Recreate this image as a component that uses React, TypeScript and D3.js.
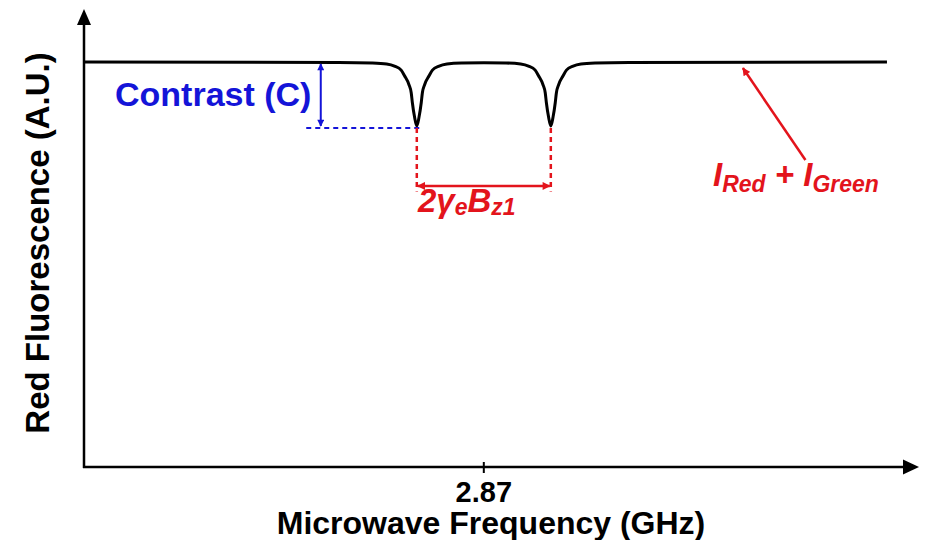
import React from 'react';
import * as d3 from 'd3';

// ODMR spectrum: two Lorentzian-looking dips around 2.87 GHz
const freqGHz = [
  2.512, 2.74, 2.77, 2.783, 2.79, 2.796, 2.799, 2.803, 2.805, 2.806, 2.808, 2.81,
  2.812, 2.814, 2.815, 2.817, 2.821, 2.824, 2.83, 2.837, 2.85, 2.87,
  2.89, 2.903, 2.91, 2.916, 2.919, 2.923, 2.925, 2.926, 2.928, 2.93,
  2.932, 2.934, 2.935, 2.937, 2.941, 2.944, 2.95, 2.957, 2.97, 3.0, 3.231,
];
const redFluorescence = [
  1.0, 0.999, 0.9975, 0.995, 0.99, 0.98, 0.966, 0.944, 0.924, 0.9, 0.864, 0.842,
  0.864, 0.9, 0.924, 0.944, 0.966, 0.98, 0.99, 0.995, 0.9975, 0.998,
  0.9975, 0.995, 0.99, 0.98, 0.966, 0.944, 0.924, 0.9, 0.864, 0.842,
  0.864, 0.9, 0.924, 0.944, 0.966, 0.98, 0.99, 0.995, 0.9975, 0.999, 1.0,
];
const xTicks = [2.87];
const dipFreqs = [2.81, 2.93];
const dipLevel = 0.842;
const contrastFreq = 2.724;
const contrastDashFrom = 2.711;
const splitArrowLevel = 0.694;
const splitDashLevel = 0.68;
const sumArrowFrom = { f: 3.158, v: 0.758 };
const sumArrowTo = { f: 3.102, v: 0.985 };

const W = 928;
const H = 540;
const FONT = '"Liberation Sans", Arial, Helvetica, sans-serif';
const RED = '#e3141c';
const BLUE = '#1414d8';

export default function App() {
  const x = d3.scaleLinear().domain([2.512, 3.257]).range([84, 916]);
  const y = d3.scaleLinear().domain([0, 1]).range([467, 62]);
  const points = freqGHz.map((f, i) => [f, redFluorescence[i]] as [number, number]);
  const line = d3.line<[number, number]>()
    .x((d) => x(d[0]))
    .y((d) => y(d[1]))
    .curve(d3.curveMonotoneX);

  const x0 = x.range()[0];
  const y0 = y(0);

  return (
    <svg width={W} height={H} style={{ position: 'absolute', left: 0, top: 0, background: '#fff' }}>
      <defs>
        <marker id="blueHead" viewBox="0 0 10 10" refX="9" refY="5" markerWidth="8" markerHeight="7"
          markerUnits="userSpaceOnUse" orient="auto-start-reverse">
          <path d="M0,0L10,5L0,10z" fill={BLUE} />
        </marker>
        <marker id="redHead" viewBox="0 0 10 10" refX="9" refY="5" markerWidth="9" markerHeight="8"
          markerUnits="userSpaceOnUse" orient="auto-start-reverse">
          <path d="M0,0L10,5L0,10z" fill={RED} />
        </marker>
      </defs>

      {/* axes */}
      <line x1={x0} y1={y0 + 1} x2={x0} y2={24} stroke="#000" strokeWidth={2.5} />
      <path d={`M${x0},9L${x0 - 7},25L${x0 + 7},25z`} fill="#000" />
      <line x1={x0 - 1} y1={y0} x2={905} y2={y0} stroke="#000" strokeWidth={2.5} />
      <path d={`M919,${y0}L903,${y0 - 7.5}L903,${y0 + 7.5}z`} fill="#000" />
      {xTicks.map((t) => (
        <g key={t}>
          <line x1={x(t)} x2={x(t)} y1={y0 - 5} y2={y0 + 6} stroke="#000" strokeWidth={2} />
          <text x={x(t)} y={502} textAnchor="middle" fontFamily={FONT} fontWeight="bold" fontSize={29}>
            {t.toFixed(2)}
          </text>
        </g>
      ))}
      <text x={491} y={534} textAnchor="middle" fontFamily={FONT} fontWeight="bold" fontSize={32}>
        Microwave Frequency (GHz)
      </text>
      <text transform="translate(49,243) rotate(-90)" textAnchor="middle" fontFamily={FONT}
        fontWeight="bold" fontSize={33}>
        Red Fluorescence (A.U.)
      </text>

      {/* spectrum */}
      <path d={line(points) || ''} fill="none" stroke="#000" strokeWidth={3} strokeLinejoin="round" />

      {/* contrast annotation */}
      <line x1={x(contrastDashFrom)} x2={x(dipFreqs[0]) + 5} y1={y(dipLevel) + 2} y2={y(dipLevel) + 2}
        stroke={BLUE} strokeWidth={2} strokeDasharray="5,4" />
      <line x1={x(contrastFreq)} x2={x(contrastFreq)} y1={y(1) + 2} y2={y(dipLevel)}
        stroke={BLUE} strokeWidth={2} markerStart="url(#blueHead)" markerEnd="url(#blueHead)" />
      <text x={115} y={106} fontFamily={FONT} fontWeight="bold" fontSize={34} fill={BLUE}>
        Contrast (C)
      </text>

      {/* splitting annotation */}
      {dipFreqs.map((f) => (
        <line key={f} x1={x(f)} x2={x(f)} y1={y(dipLevel) + 2} y2={y(splitDashLevel)}
          stroke={RED} strokeWidth={2.5} strokeDasharray="5,4" />
      ))}
      <line x1={x(dipFreqs[0]) + 1} x2={x(dipFreqs[1]) - 1} y1={y(splitArrowLevel)} y2={y(splitArrowLevel)}
        stroke={RED} strokeWidth={2.5} markerStart="url(#redHead)" markerEnd="url(#redHead)" />
      <text x={418} y={212} fontFamily={FONT} fontWeight="bold" fontStyle="italic" fontSize={33} fill={RED}>
        <tspan>2γ</tspan>
        <tspan fontSize={23} dy={3}>e</tspan>
        <tspan dy={-3}>B</tspan>
        <tspan fontSize={23} dy={3}>z1</tspan>
      </text>

      {/* sum annotation */}
      <line x1={x(sumArrowFrom.f)} y1={y(sumArrowFrom.v)} x2={x(sumArrowTo.f)} y2={y(sumArrowTo.v)}
        stroke={RED} strokeWidth={2.5} markerEnd="url(#redHead)" />
      <text x={713} y={186} fontFamily={FONT} fontWeight="bold" fontStyle="italic" fontSize={33} fill={RED}>
        <tspan>I</tspan>
        <tspan fontSize={23} dy={6}>Red</tspan>
        <tspan dy={-6}> + I</tspan>
        <tspan fontSize={23} dy={6}>Green</tspan>
      </text>
    </svg>
  );
}
